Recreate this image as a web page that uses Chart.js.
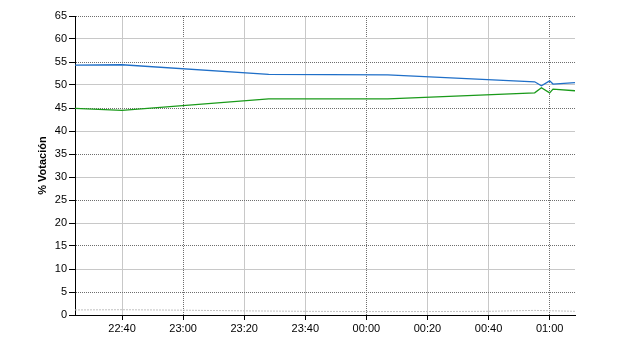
<!DOCTYPE html>
<html>
<head>
<meta charset="utf-8">
<script src="https://cdn.jsdelivr.net/npm/chart.js@4/dist/chart.umd.min.js"></script>
<style>
html,body{margin:0;padding:0;background:#fff;}
#wrap{width:640px;height:350px;position:relative;}
</style>
</head>
<body>
<div id="wrap"><canvas id="c" width="640" height="350"></canvas></div>
<script>
// Time in minutes after 22:00
const times      = [24.6, 40, 88, 127, 175.1, 177.3, 180, 181.1, 188.3];
const seriesA    = [54.3, 54.4, 52.3, 52.2, 50.7, 49.85, 50.9, 50.2, 50.5];   // blue
const seriesB    = [44.9, 44.5, 47.0, 47.0, 48.3, 49.4, 48.3, 49.1, 48.75];   // green
const otherTimes = [24.6, 40, 60, 80, 100, 120, 140, 160, 175, 188.3];
const seriesC    = [1.1, 1.15, 1.05, 0.9, 0.8, 0.75, 0.75, 0.8, 1.0, 0.8];    // grey
const xTicks     = [40, 60, 80, 100, 120, 140, 160, 180];
const xTickLabels= ["22:40","23:00","23:20","23:40","00:00","00:20","00:40","01:00"];
const yTitle     = "% Votación";

const pts = (xs, ys) => xs.map((x, i) => ({x: x, y: ys[i]}));
const FONT = "'Liberation Sans', Arial, sans-serif";

new Chart(document.getElementById('c'), {
  type: 'line',
  data: {
    datasets: [
      {data: pts(otherTimes, seriesC), borderColor: '#c0c0c0', borderWidth: 1, borderDash: [2,1], pointRadius: 0, tension: 0},
      {data: pts(times, seriesB), borderColor: '#1a9a1a', borderWidth: 1.3, pointRadius: 0, tension: 0},
      {data: pts(times, seriesA), borderColor: '#1f6fc8', borderWidth: 1.3, pointRadius: 0, tension: 0}
    ]
  },
  options: {
    responsive: false,
    animation: false,
    events: [],
    layout: {padding: {left: 36, right: 65, top: 16, bottom: 0}},
    plugins: {legend: {display: false}, tooltip: {enabled: false}},
    scales: {
      x: {
        type: 'linear',
        min: 24.6, max: 188.3,
        afterBuildTicks: s => { s.ticks = xTicks.map(v => ({value: v})); },
        afterFit: s => { s.height = 35; },
        ticks: {
          color: '#000', font: {family: FONT, size: 11}, padding: 2, maxRotation: 0, autoSkip: false,
          callback: (v) => { const i = xTicks.indexOf(v); return i >= 0 ? xTickLabels[i] : ''; }
        },
        grid: {
          color: ctx => (ctx.tick && (ctx.tick.value - 40) % 60 === 20) ? '#6e6e6e' : '#c8c8c8',
          tickColor: '#000', tickLength: 5, lineWidth: 1
        },
        border: {
          color: '#000', width: 1,
          dash: ctx => (ctx.tick && (ctx.tick.value - 40) % 60 === 20) ? [1,1] : []
        }
      },
      y: {
        min: 0, max: 65,
        afterFit: s => { s.width = 39; },
        ticks: {stepSize: 5, color: '#000', font: {family: FONT, size: 11}, padding: 2},
        title: {display: true, text: yTitle, color: '#000', font: {family: FONT, size: 11, weight: 'bold'}, padding: {top: 0, bottom: 0}},
        grid: {
          color: ctx => (ctx.tick && ctx.tick.value % 10 === 5) ? '#6e6e6e' : '#c8c8c8',
          tickColor: '#000', tickLength: 6, lineWidth: 1
        },
        border: {
          color: '#000', width: 1,
          dash: ctx => (ctx.tick && ctx.tick.value % 10 === 5) ? [1,1] : []
        }
      }
    }
  }
});
</script>
</body>
</html>
